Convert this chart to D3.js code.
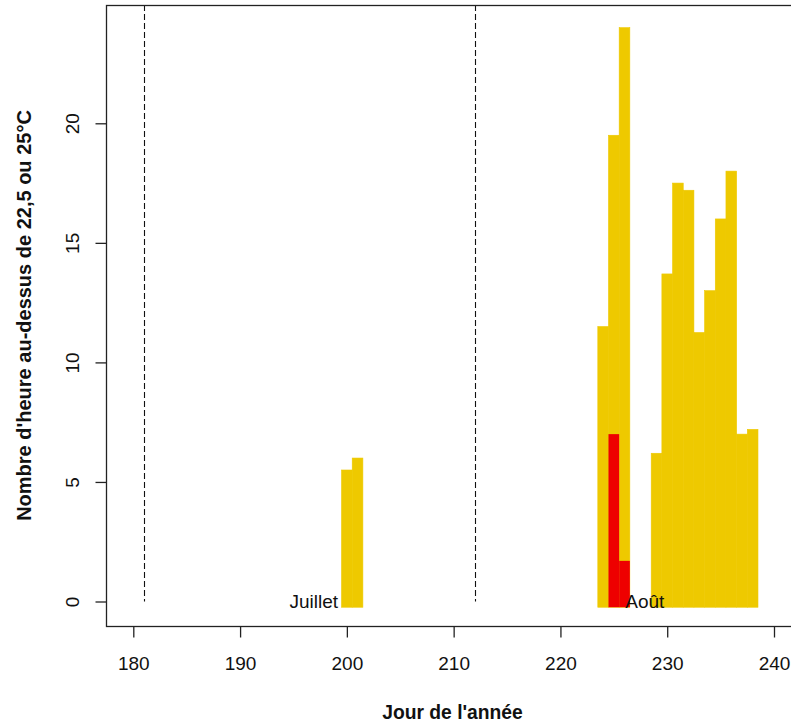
<!DOCTYPE html>
<html>
<head>
<meta charset="utf-8">
<script src="https://cdn.jsdelivr.net/npm/d3@7"></script>
<style>
  html, body { margin: 0; padding: 0; background: #fff; }
  svg { display: block; }
  text { font-family: "Liberation Sans", Arial, sans-serif; fill: #111; }
</style>
</head>
<body>
<script>
// ---- Data ----
const yellowDays   = [200, 201, 224, 225, 226, 229, 230, 231, 232, 233, 234, 235, 236, 237, 238];
const yellowValues = [5.5, 6, 11.5, 19.5, 24, 6.2, 13.7, 17.5, 17.2, 11.25, 13, 16, 18, 7, 7.2];
const redDays      = [225, 226];
const redValues    = [7, 1.7];
const monthDays    = [181, 212];
const monthLabelDays = [196.9, 227.9];
const monthLabelTexts = ["Juillet", "Août"];
const xTicks = [180, 190, 200, 210, 220, 230, 240];
const yTicks = [0, 5, 10, 15, 20];
const barBase = -0.24;

const W = 791, H = 725;
const box = {left: 106, top: 5, right: 799, bottom: 626};

const svg = d3.select("body").append("svg").attr("width", W).attr("height", H);

const x = d3.scaleLinear().domain([180, 240]).range([133.3, 774]);
const y = d3.scaleLinear().domain([0, 20]).range([601.5, 123.3]);

// dashed month boundaries
svg.append("g").selectAll("line").data(monthDays).join("line")
  .attr("x1", d => Math.round(x(d)) + 0.5).attr("x2", d => Math.round(x(d)) + 0.5)
  .attr("y1", box.top).attr("y2", y(0))
  .attr("stroke", "#111").attr("stroke-width", 1.1).attr("stroke-dasharray", "6,3");

// yellow bars
const yellow = yellowDays.map((d, i) => ({day: d, v: yellowValues[i]}));
svg.append("g").selectAll("rect").data(yellow).join("rect")
  .attr("x", d => x(d.day - 0.5))
  .attr("width", d => x(d.day + 0.5) - x(d.day - 0.5))
  .attr("y", d => y(d.v))
  .attr("height", d => y(barBase) - y(d.v))
  .attr("fill", "#EEC900")
  .attr("stroke", "#EEC900").attr("stroke-width", 0.6);

// red bars
const red = redDays.map((d, i) => ({day: d, v: redValues[i]}));
svg.append("g").selectAll("rect").data(red).join("rect")
  .attr("x", d => x(d.day - 0.5))
  .attr("width", d => x(d.day + 0.5) - x(d.day - 0.5))
  .attr("y", d => y(d.v))
  .attr("height", d => y(barBase) - y(d.v))
  .attr("fill", "#EE0000");

// month labels
svg.append("g").selectAll("text").data(monthLabelDays).join("text")
  .attr("x", d => x(d))
  .attr("y", y(0))
  .attr("dy", "0.36em")
  .attr("text-anchor", "middle")
  .attr("font-size", 19)
  .text((d, i) => monthLabelTexts[i]);

// box
svg.append("rect")
  .attr("x", box.left + 0.5).attr("y", box.top + 0.5)
  .attr("width", box.right - box.left).attr("height", box.bottom - box.top)
  .attr("fill", "none").attr("stroke", "#222").attr("stroke-width", 1.3);

// x axis
const xAxis = svg.append("g").attr("transform", `translate(0,${box.bottom + 0.5})`)
  .call(d3.axisBottom(x).tickValues(xTicks).tickSize(11).tickPadding(19).tickFormat(d3.format("d")));
xAxis.select(".domain").remove();
xAxis.selectAll("line").attr("stroke", "#222").attr("stroke-width", 1.3);
xAxis.selectAll("text").attr("font-size", 19).attr("fill", "#111").style("font-family", "'Liberation Sans', Arial, sans-serif");

// y axis with rotated labels
const yAxis = svg.append("g").attr("transform", `translate(${box.left + 0.5},0)`)
  .call(d3.axisLeft(y).tickValues(yTicks).tickSize(11).tickFormat(d3.format("d")));
yAxis.select(".domain").remove();
yAxis.selectAll("line").attr("stroke", "#222").attr("stroke-width", 1.3);
yAxis.selectAll("text").remove();
yAxis.selectAll(".tick").append("text")
  .attr("transform", "translate(-34,0) rotate(-90)")
  .attr("text-anchor", "middle")
  .attr("dy", "0.36em")
  .attr("font-size", 19)
  .attr("fill", "#111")
  .style("font-family", "'Liberation Sans', Arial, sans-serif")
  .text(d => d);

// axis titles
svg.append("text")
  .attr("x", (box.left + box.right) / 2).attr("y", 712)
  .attr("dy", "0.36em")
  .attr("text-anchor", "middle")
  .attr("font-size", 19.3).attr("font-weight", "bold")
  .text("Jour de l'année");

svg.append("text")
  .attr("transform", `translate(24,${(box.top + box.bottom) / 2}) rotate(-90)`)
  .attr("text-anchor", "middle")
  .attr("dy", "0.36em")
  .attr("font-size", 20).attr("font-weight", "bold")
  .text("Nombre d'heure au-dessus de 22,5 ou 25°C");
</script>
</body>
</html>
